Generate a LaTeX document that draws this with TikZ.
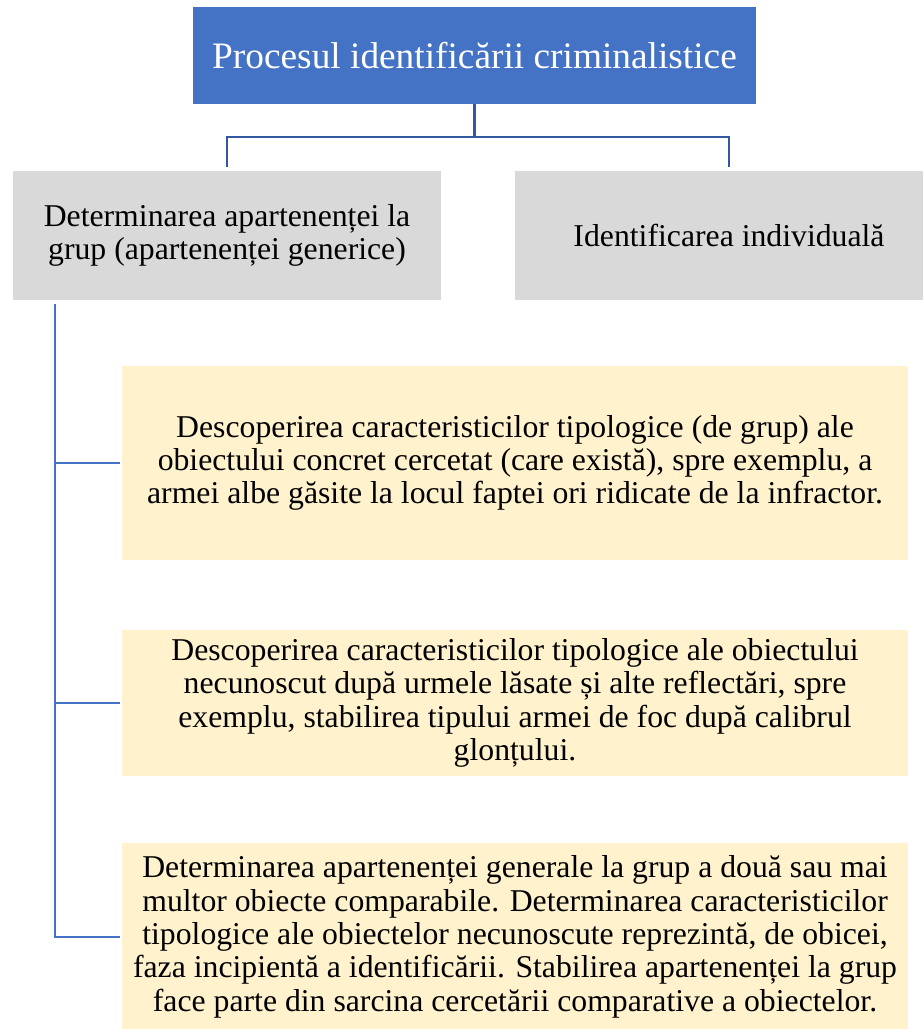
\documentclass[tikz,border=0pt]{standalone}
\usepackage{fontspec}
\setmainfont{Liberation Serif}
\usepackage{tikz}
\usetikzlibrary{calc}

\definecolor{titleblue}{RGB}{68,114,196}
\definecolor{linkblue}{RGB}{50,88,160}
\definecolor{boxgray}{RGB}{217,217,217}
\definecolor{noteyellow}{RGB}{255,242,204}

\tikzset{
  titlebox/.style={fill=titleblue,text=white,inner sep=0.75pt,align=center,
    minimum width=422.25pt,minimum height=72.75pt,font=\fontsize{28}{32}\selectfont},
  groupbox/.style={fill=boxgray,inner sep=0.75pt,align=center,
    minimum width=321pt,minimum height=96.75pt,font=\fontsize{23.8}{25}\selectfont},
  notebox/.style={fill=noteyellow,inner sep=0.75pt,align=center,
    minimum width=589.5pt,font=\fontsize{23.8}{25}\selectfont},
  link/.style={draw=linkblue,line width=2.1pt},
  treeline/.style={draw=titleblue,line width=2.1pt}
}

\begin{document}
\begin{tikzpicture}[x=0.75pt,y=0.75pt,yscale=-1,xscale=1]
\useasboundingbox (0,0) rectangle (923,1029);
\clip (0,0) rectangle (923,1029);

%Shape: Rectangle [id:title] 
\node [titlebox] (title) at (474.5,55.5) {Procesul identificării criminalistice};

%Shape: Rectangle [id:grp] 
\node [groupbox] (grp) at (227,235.5) {Determinarea apartenenței la\\grup (apartenenței generice)};
%Shape: Rectangle [id:indiv] 
\node [groupbox] (indiv) at (729,235.5) {Identificarea individuală};

%Shape: Rectangle [id:note1] 
\node [notebox,minimum height=145.5pt] (note1) at (515,463) {Descoperirea caracteristicilor tipologice (de grup) ale\\obiectului concret cercetat (care există), spre exemplu, a\\armei albe găsite la locul faptei ori ridicate de la infractor.};
%Shape: Rectangle [id:note2] 
\node [notebox,minimum height=109.5pt] (note2) at (515,703) {Descoperirea caracteristicilor tipologice ale obiectului\\necunoscut după urmele lăsate și alte reflectări, spre\\exemplu, stabilirea tipului armei de foc după calibrul\\glonțului.};
%Shape: Rectangle [id:note3] 
\node [notebox,minimum height=141pt] (note3) at (515,937) {Determinarea apartenenței generale la grup a două sau mai\\multor obiecte comparabile. Determinarea caracteristicilor\\tipologice ale obiectelor necunoscute reprezintă, de obicei,\\faza incipientă a identificării. Stabilirea apartenenței la grup\\face parte din sarcina cercetării comparative a obiectelor.};

%Straight Lines [id:fork] 
\coordinate (fork) at (title.south |- 0,137);
\draw [link,shorten >=3pt] (title.south) -- (fork) -| (grp.north);
\draw [link,shorten >=3pt] (fork) -| (indiv.north);

%Straight Lines [id:trunk] 
\coordinate (trunk) at (55,300);
\draw [treeline,shorten <=3pt,shorten >=1.5pt] (trunk) |- (note3.west);
\draw [treeline,shorten >=1.5pt] (trunk |- note1.west) -- (note1.west);
\draw [treeline,shorten >=1.5pt] (trunk |- note2.west) -- (note2.west);

\end{tikzpicture}
\end{document}
